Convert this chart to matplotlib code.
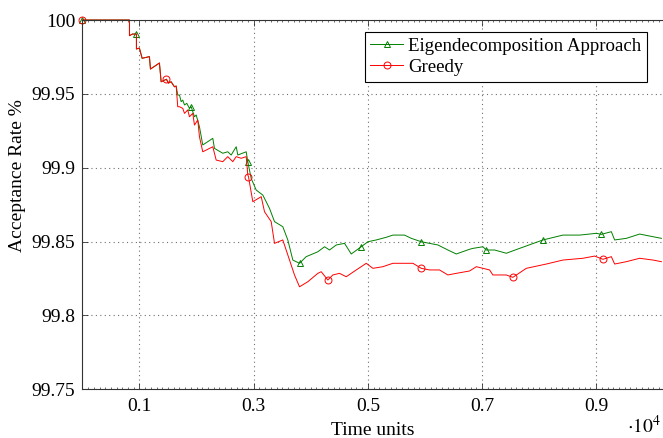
import matplotlib
matplotlib.use('Agg')
import matplotlib.pyplot as plt
from matplotlib.ticker import MultipleLocator

plt.rcParams['font.family'] = ['Liberation Serif', 'DejaVu Serif']
plt.rcParams['mathtext.fontset'] = 'stix'

# Greedy (rouge)
greedy_t = [0, 824, 824, 876, 946, 946, 998, 1046, 1174, 1192, 1349, 1379, 1472,
            1507, 1554, 1612, 1642, 1670, 1700, 1758, 1788, 1845, 1875, 1933, 1963,
            2021, 2050, 2108, 2284, 2343, 2459, 2546, 2634, 2694, 2781, 2869, 2897,
            2909, 2985, 3132, 3190, 3307, 3365, 3510, 3628, 3715, 3803, 3948, 4124,
            4183, 4299, 4387, 4504, 4621, 4797, 4972, 5088, 5263, 5438, 5613, 5789,
            5936, 6081, 6256, 6402, 6549, 6782, 6900, 7132, 7190, 7425, 7540, 7776,
            8126, 8417, 8768, 8973, 9118, 9265, 9323, 9528, 9761, 9995, 10142]
greedy_rate = [100, 100, 99.9894, 99.9905, 99.9905, 99.9804, 99.9810, 99.9741, 99.9752,
               99.9668, 99.9709, 99.9582, 99.9599, 99.9573, 99.9582, 99.9548, 99.9553,
               99.9413, 99.9413, 99.9402, 99.9368, 99.9391, 99.9345, 99.9368, 99.9289,
               99.9323, 99.9210, 99.9108, 99.9142, 99.9052, 99.9041, 99.9075, 99.9041,
               99.9075, 99.9064, 99.9075, 99.8951, 99.8939, 99.8770, 99.8804, 99.8702,
               99.8635, 99.8488, 99.8511, 99.8375, 99.8274, 99.8194, 99.8228, 99.8285,
               99.8296, 99.8240, 99.8274, 99.8285, 99.8262, 99.8308, 99.8353, 99.8319,
               99.8330, 99.8353, 99.8353, 99.8353, 99.8319, 99.8308, 99.8308, 99.8274,
               99.8285, 99.8301, 99.8330, 99.8308, 99.8274, 99.8274, 99.8258, 99.8319,
               99.8348, 99.8375, 99.8387, 99.8402, 99.8380, 99.8398, 99.8348, 99.8364,
               99.8387, 99.8375, 99.8364]
greedy_marks_t = [0, 1472, 2909, 4299, 5936, 7540, 9118]

# Eigendecomposition (vert)
eigen_t = [0, 824, 824, 876, 946, 946, 998, 1046, 1174, 1192, 1349, 1379, 1472,
           1507, 1554, 1612, 1642, 1670, 1700, 1730, 1758, 1788, 1828, 1875, 1905,
           1963, 1993, 2050, 2108, 2284, 2313, 2459, 2546, 2606, 2694, 2722, 2869,
           2897, 2956, 3044, 3160, 3277, 3365, 3510, 3598, 3686, 3803, 3920, 4124,
           4241, 4329, 4446, 4592, 4709, 4884, 5000, 5147, 5322, 5438, 5643, 5760,
           5936, 6081, 6227, 6402, 6549, 6782, 6840, 7015, 7075, 7220, 7425, 7658,
           8067, 8417, 8710, 9003, 9090, 9265, 9323, 9528, 9761, 9995, 10142]
eigen_rate = [100, 100, 99.9894, 99.9905, 99.9905, 99.9804, 99.9810, 99.9741, 99.9752,
              99.9668, 99.9709, 99.9582, 99.9599, 99.9573, 99.9582, 99.9548, 99.9553,
              99.9492, 99.9492, 99.9447, 99.9458, 99.9425, 99.9436, 99.9402, 99.9413,
              99.9345, 99.9357, 99.9278, 99.9154, 99.9199, 99.9131, 99.9098, 99.9108,
              99.9086, 99.9142, 99.9086, 99.9108, 99.9041, 99.8928, 99.8849, 99.8815,
              99.8725, 99.8635, 99.8601, 99.8511, 99.8375, 99.8353, 99.8398, 99.8431,
              99.8465, 99.8443, 99.8477, 99.8488, 99.8416, 99.8465, 99.8499, 99.8511,
              99.8529, 99.8544, 99.8544, 99.8522, 99.8499, 99.8488, 99.8477, 99.8443,
              99.8416, 99.8448, 99.8454, 99.8465, 99.8443, 99.8443, 99.8421, 99.8454,
              99.8511, 99.8544, 99.8544, 99.8556, 99.8549, 99.8567, 99.8511, 99.8522,
              99.8551, 99.8533, 99.8522]
eigen_marks_t = [0, 946, 1905, 2897, 3803, 4884, 5936, 7075, 8067, 9090]

x_ticks = [1000, 3000, 5000, 7000, 9000]
x_tick_labels = ['0.1', '0.3', '0.5', '0.7', '0.9']
y_ticks = [99.75, 99.8, 99.85, 99.9, 99.95, 100]
y_tick_labels = ['99.75', '99.8', '99.85', '99.9', '99.95', '100']

fig = plt.figure(figsize=(6.63, 4.38), dpi=100)
ax = fig.add_axes([0.1243, 0.1112, 0.8757, 0.8431])

eigen_idx = [eigen_t.index(t) for t in eigen_marks_t]
greedy_idx = [greedy_t.index(t) for t in greedy_marks_t]

ax.plot(eigen_t, eigen_rate, color='#008000', linewidth=0.7, marker='^',
        markersize=4.5, markerfacecolor='none', markeredgewidth=0.7,
        markevery=eigen_idx, label='Eigendecomposition Approach', clip_on=False)
ax.plot(greedy_t, greedy_rate, color='#ff0000', linewidth=0.7, marker='o',
        markersize=5, markerfacecolor='none', markeredgewidth=0.7,
        markevery=greedy_idx, label='Greedy', clip_on=False)

ax.set_xlim(0, 10170)
ax.set_ylim(99.75, 100)
ax.set_xticks(x_ticks)
ax.set_xticklabels(x_tick_labels)
ax.set_yticks(y_ticks)
ax.set_yticklabels(y_tick_labels)
ax.xaxis.set_minor_locator(MultipleLocator(100))
ax.tick_params(which='both', direction='in', top=True, labelsize=14, color='#333333')
ax.tick_params(which='major', length=4, width=0.6)
ax.tick_params(which='minor', length=1.5, width=0.5)
ax.tick_params(axis='x', pad=6)
ax.tick_params(axis='y', pad=5)
ax.grid(True, which='major', linestyle=(0, (1, 3)), color='#707070', linewidth=0.8)

for side in ['left', 'bottom', 'top']:
    ax.spines[side].set_color('#333333')
    ax.spines[side].set_linewidth(0.8)
ax.spines['right'].set_visible(False)

ax.set_xlabel('Time units', fontsize=14, labelpad=5)
ax.set_ylabel('Acceptance Rate %', fontsize=14)
ax.yaxis.set_label_coords(-0.098, 0.58)
fig.text(0.997, 0.002, r'$\cdot 10^4$', fontsize=14, ha='right', va='bottom')

leg = ax.legend(loc='upper right', bbox_to_anchor=(0.9725, 0.9675), borderaxespad=0,
                fontsize=13.6, fancybox=False, framealpha=1, edgecolor='black',
                handlelength=1.7, handletextpad=0.3, labelspacing=0.2, borderpad=0.3)
leg.get_frame().set_linewidth(0.8)

plt.savefig('out.png', dpi=100)
